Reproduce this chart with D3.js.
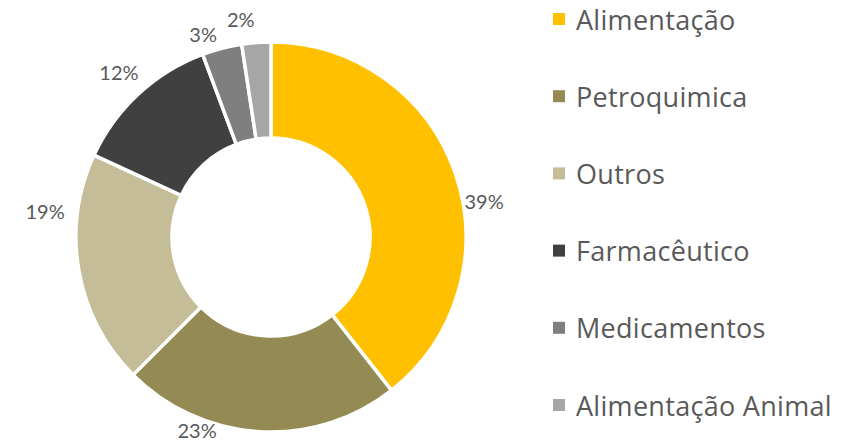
<!DOCTYPE html>
<html>
<head>
  <meta charset="utf-8">
  <style>
    body { margin: 0; background: #fff; }
    text { font-family: "Lato", "Open Sans", sans-serif; fill: #595959; }
    .leg text { font-family: "Open Sans", "Lato", sans-serif; }
  </style>
</head>
<body>
  <script src="https://d3js.org/d3.v7.min.js"></script>
  <script>
    // shares of each sector (percent)
    var categories = ["Alimentação", "Petroquimica", "Outros", "Farmacêutico", "Medicamentos", "Alimentação Animal"];
    var values = [39.4, 23.1, 19.4, 12.4, 3.3, 2.4];
    var colors = ["#FFC000", "#948A54", "#C4BD97", "#404040", "#7F7F7F", "#A6A6A6"];

    // labels were dragged by hand in the original, so nudge them a bit
    var labelNudge = [[0, 38], [-61, -23], [-5, -65], [1, 0], [-13, 8], [-14, -3]];

    var width = 857, height = 443,
        cx = 271, cy = 237,
        outerR = 195, innerR = 99;

    var svg = d3.select("body").append("svg")
        .attr("width", width)
        .attr("height", height);

    var g = svg.append("g")
        .attr("transform", "translate(" + cx + "," + cy + ")");

    var pie = d3.pie().sort(null).value(function(d) { return d; });
    var arc = d3.arc().innerRadius(innerR).outerRadius(outerR);

    var arcs = pie(values);

    g.selectAll(".slice")
      .data(arcs)
      .enter().append("path")
        .attr("class", "slice")
        .attr("d", arc)
        .attr("fill", function(d, i) { return colors[i]; })
        .attr("stroke", "#fff")
        .attr("stroke-width", 3.5);

    g.selectAll(".lbl")
      .data(arcs)
      .enter().append("text")
        .attr("class", "lbl")
        .style("font-size", "20px")
        .attr("text-anchor", "middle")
        .attr("dominant-baseline", "central")
        .text(function(d) { return Math.round(d.value) + "%"; })
        .each(function(d, i) {
          var a = (d.startAngle + d.endAngle) / 2;
          var bb = this.getBBox();
          var off = bb.width / 2 * Math.abs(Math.sin(a)) + bb.height / 2 * Math.abs(Math.cos(a));
          var r = outerR + 8 + off;
          d3.select(this)
            .attr("x", r * Math.sin(a) + labelNudge[i][0])
            .attr("y", -r * Math.cos(a) + labelNudge[i][1]);
        });

    var legend = svg.append("g")
        .attr("transform", "translate(553,0)");

    var row = legend.selectAll(".leg")
      .data(categories)
      .enter().append("g")
        .attr("class", "leg")
        .attr("transform", function(d, i) { return "translate(0," + (19 + i * 77.2) + ")"; });

    row.append("rect")
        .attr("x", 0)
        .attr("y", -6)
        .attr("width", 12)
        .attr("height", 12)
        .attr("fill", function(d, i) { return colors[i]; });

    row.append("text")
        .attr("x", 23)
        .attr("y", 0)
        .attr("dominant-baseline", "central")
        .style("font-size", "27px")
        .style("letter-spacing", "0.3px")
        .text(function(d) { return d; });
  </script>
</body>
</html>
